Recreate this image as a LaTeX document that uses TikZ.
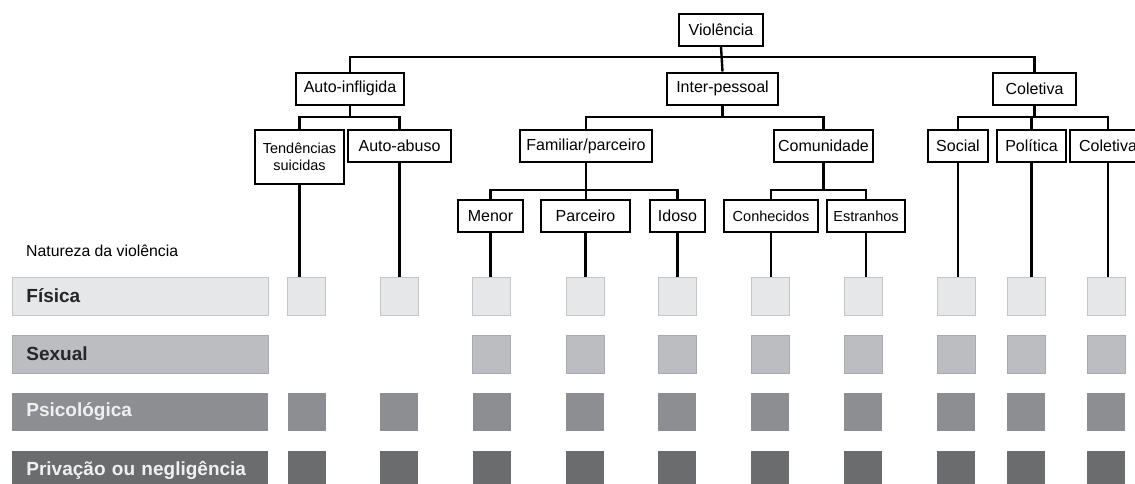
\documentclass[tikz,border=0pt]{standalone}
\usepackage{fontspec}
\setmainfont{Liberation Sans}

\definecolor{fisica}{HTML}{E6E7E8}
\definecolor{fisicaline}{HTML}{C4C5C7}
\definecolor{sexual}{HTML}{BCBDC0}
\definecolor{sexualline}{HTML}{A9AAAD}
\definecolor{psico}{HTML}{8D8E91}
\definecolor{priv}{HTML}{6B6C6E}

\tikzset{
  box/.style   ={draw=black, line width=2pt, fill=white, inner sep=0pt,
                 minimum height=32pt, align=center,
                 font=\fontsize{16}{17.5}\selectfont},
  smallbox/.style={box, font=\fontsize{14.5}{16.5}\selectfont},
  link/.style  ={line width=2.4pt, line join=miter},
  bar/.style   ={anchor=west, minimum width=256pt, minimum height=38pt,
                 inner xsep=14pt, inner ysep=0pt, text width=228pt, align=left,
                 line width=0.8pt, font=\fontsize{19}{21}\selectfont\bfseries},
  cell/.style  ={minimum width=38pt, minimum height=38pt, inner sep=0pt,
                 line width=0.8pt}
}

\begin{document}
\begin{tikzpicture}[x=1pt, y=-1pt]
    \useasboundingbox (0,0) rectangle (1135,483);

    % level 1 and 2
    \node[box, minimum width=84pt]  (viol)  at (721,30)    {Violência};
    \node[box, minimum width=108pt] (auto)  at (350,88.5)  {Auto-infligida};
    \node[box, minimum width=111pt] (inter) at (722.5,88.5) {Inter-pessoal};
    \node[box, minimum width=83pt]  (colet) at (1034.5,88.5) {Coletiva};

    % level 3
    \node[smallbox, minimum width=89pt, minimum height=54pt] (tend) at (299.5,157) {Tendências\\suicidas};
    \node[box, minimum width=103pt] (abuso)  at (399.5,146) {Auto-abuso};
    \node[box, minimum width=132pt] (famil)  at (586,146)   {Familiar/parceiro};
    \node[box, minimum width=99pt]  (comun)  at (823.5,146) {Comunidade};
    \node[box, minimum width=60pt]  (social) at (958,146)   {Social};
    \node[box, minimum width=69pt]  (polit)  at (1031.5,146) {Política};
    \node[box, minimum width=76pt]  (colet2) at (1108,146)  {Coletiva};

    % level 4
    \node[box, minimum width=65pt]  (menor)  at (490.5,216) {Menor};
    \node[box, minimum width=89pt]  (parc)   at (585.5,216) {Parceiro};
    \node[box, minimum width=55pt]  (idoso)  at (677.5,216) {Idoso};
    \node[smallbox, minimum width=94pt] (conhec) at (771,216) {Conhecidos};
    \node[smallbox, minimum width=78pt] (estr)   at (866,216) {Estranhos};

    % branch heights
    \coordinate (bus1) at (0,57);
    \coordinate (bus2) at (0,117);
    \coordinate (bus3) at (0,190);

    % tree links
    \draw[link] (auto.north) -- (auto.north |- bus1) -- (colet.north |- bus1) -- (colet.north);
    \draw[link] (viol.south) -- (inter.north);
    \draw[link] (tend.north) -- (tend.north |- bus2) -- (abuso.north |- bus2) -- (abuso.north);
    \draw[link] (auto.south) -- (auto.south |- bus2);
    \draw[link] (famil.north) -- (famil.north |- bus2) -- (comun.north |- bus2) -- (comun.north);
    \draw[link] (inter.south) -- (inter.south |- bus2);
    \draw[link] (social.north) -- (social.north |- bus2) -- (colet2.north |- bus2) -- (colet2.north);
    \draw[link] (colet.south) -- (colet.south |- bus2);
    \draw[link] (polit.north) -- (polit.north |- bus2);
    \draw[link] (menor.north) -- (menor.north |- bus3) -- (idoso.north |- bus3) -- (idoso.north);
    \draw[link] (famil.south) -- (famil.south |- parc.north);
    \draw[link] (conhec.north) -- (conhec.north |- bus3) -- (estr.north |- bus3) -- (estr.north);
    \draw[link] (comun.south) -- (comun.south |- bus3);

    % nature of violence
    \node[anchor=west, inner sep=0pt, font=\fontsize{15.8}{17}\selectfont] (nat) at (26,251) {Natureza da violência};
    \node[bar, fill=fisica, draw=fisicaline, text=black!85] (fis) at (12,296) {Física};
    \node[bar, fill=sexual, draw=sexualline, text=black!85] (sex) at (12,354) {Sexual};
    \node[bar, fill=psico, text=white!94!black] (psi) at (12,412) {Psicológica};
    \node[bar, fill=priv, text=white!94!black] (pri) at (12,470) {Privação ou negligência};

    % cells
    \foreach \x [count=\c] in {306.5,399,491.5,585,677,770,863,956,1026,1106} {
      \node[cell, fill=fisica, draw=fisicaline] (f\c) at (\x,296) {};
      \node[cell, fill=psico] (p\c) at (\x,412) {};
      \node[cell, fill=priv]  (n\c) at (\x,470) {};
    }
    \foreach \x [count=\c from 3] in {491.5,585,677,770,863,956,1026,1106}
      \node[cell, fill=sexual, draw=sexualline] (s\c) at (\x,354) {};

    % drop lines
    \foreach \b/\c in {tend/1,abuso/2,menor/3,parc/4,idoso/5,conhec/6,estr/7,social/8,polit/9,colet2/10}
      \draw[link] (\b.south) -- (\b.south |- f\c.north);
\end{tikzpicture}
\end{document}
